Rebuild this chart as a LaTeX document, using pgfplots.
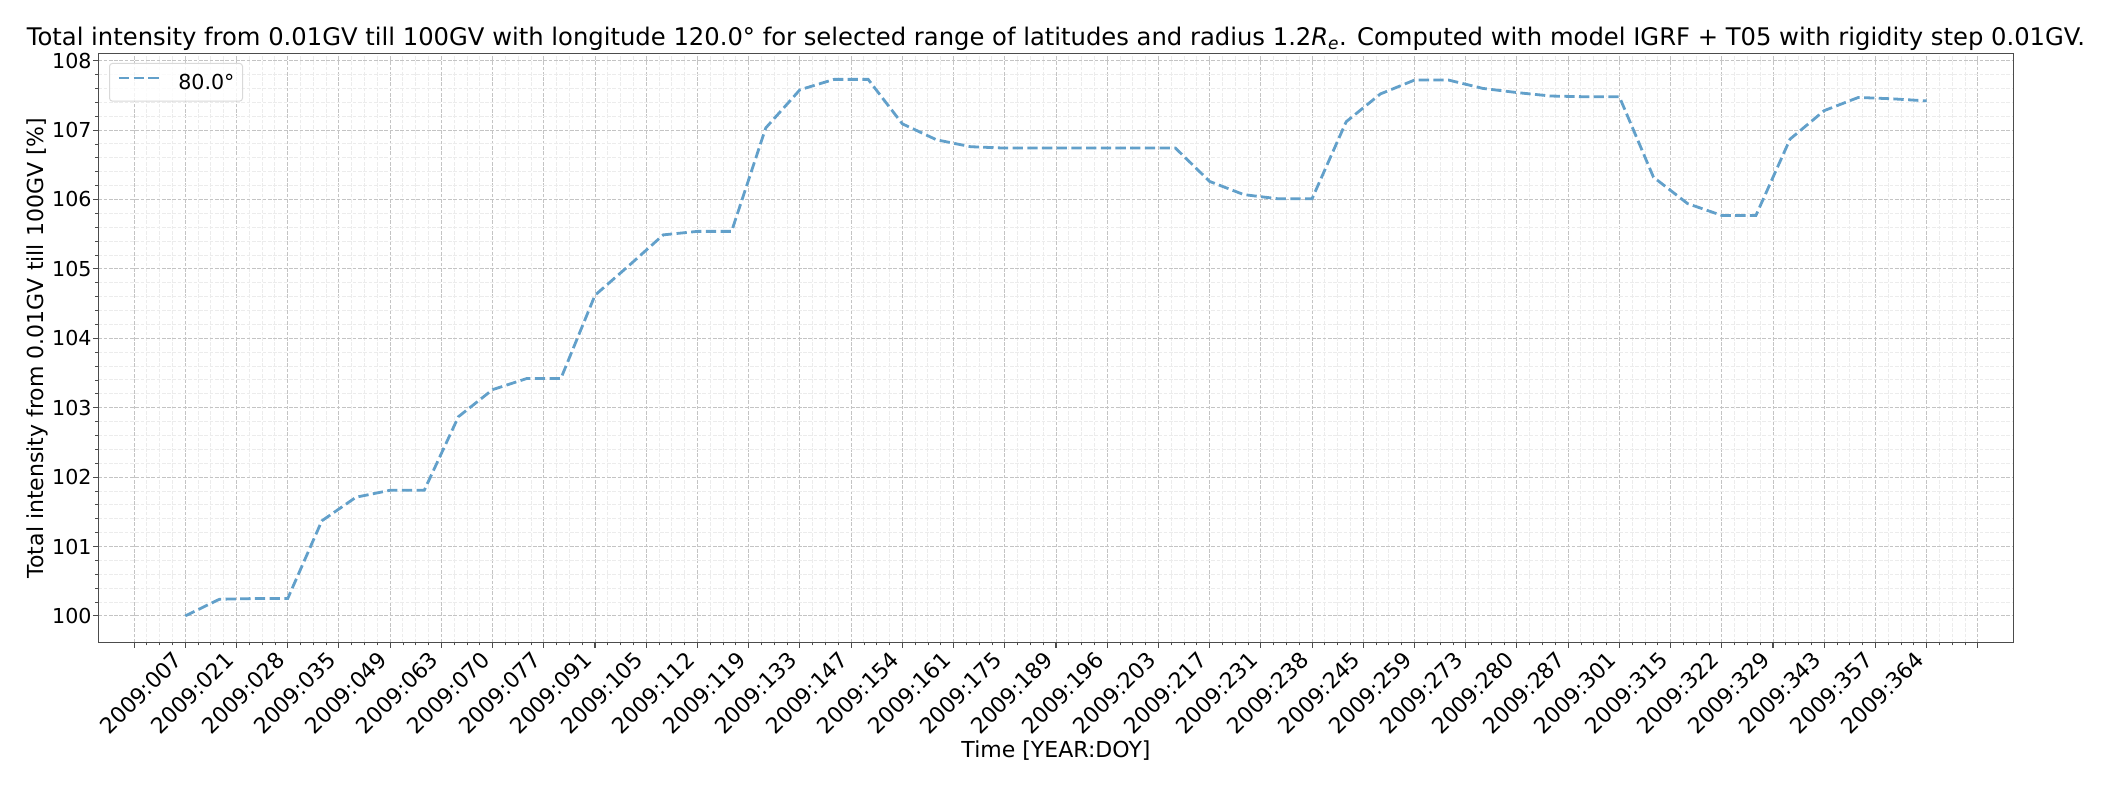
\documentclass[border=0pt]{standalone}
\usepackage{pgfplots}
\pgfplotsset{compat=1.18}
\usepackage{fontspec}
\setmainfont{DejaVu Sans}
\definecolor{series}{HTML}{62A0CA}
\definecolor{majgrid}{HTML}{C4C4C4}
\definecolor{mingrid}{HTML}{ECECEC}
\newcommand{\tickfont}{\fontsize{20.7}{25}\selectfont}
\newcommand{\xtickfont}{\fontsize{22}{26}\selectfont}
\newcommand{\labfont}{\fontsize{22.1}{26}\selectfont}
\newcommand{\titfont}{\fontsize{24.35}{29}\selectfont}
\begin{document}
\begin{tikzpicture}
\path[use as bounding box] (0,0) rectangle (2110bp,785bp);
\begin{axis}[
    at={(98.2bp,142.3bp)}, anchor=south west,
    scale only axis,
    width=1915.5bp, height=589.4bp,
    xmin=-10.85, xmax=381.85,
    ymin=99.614, ymax=108.106,
    xtick={-3.5,7,17.5,28,38.5,49,59.5,70,80.5,91,101.5,112,122.5,133,143.5,154,164.5,175,185.5,196,206.5,217,227.5,238,248.5,259,269.5,280,290.5,301,311.5,322,332.5,343,353.5,364,374.5},
    xticklabels={{},2009:007,2009:021,2009:028,2009:035,2009:049,2009:063,2009:070,2009:077,2009:091,2009:105,2009:112,2009:119,2009:133,2009:147,2009:154,2009:161,2009:175,2009:189,2009:196,2009:203,2009:217,2009:231,2009:238,2009:245,2009:259,2009:273,2009:280,2009:287,2009:301,2009:315,2009:322,2009:329,2009:343,2009:357,2009:364,{}},
    ytick={100,101,...,108},
    minor x tick num=3,
    minor y tick num=4,
    grid=both,
    major grid style={majgrid, line width=0.9bp, dash pattern=on 3.7bp off 1.6bp},
    minor grid style={mingrid, line width=0.9bp, dash pattern=on 3.7bp off 1.6bp},
    axis line style={black!70, line width=1.1bp},
    tick align=outside,
    xtick pos=bottom, ytick pos=left,
    major tick length=4.9bp, minor tick length=2.8bp,
    tick style={black!70, line width=1.1bp},
    minor tick style={black!70, line width=0.8bp},
    /pgf/number format/assume math mode=true,
    yticklabel style={font=\tickfont, inner sep=0pt, xshift=-1.5bp},
    xticklabel style={font=\xtickfont, inner sep=0pt, xshift=-13bp, yshift=-2bp, rotate=45, anchor=north east},
    legend style={at={(0,1)}, anchor=north west, xshift=10.8bp, yshift=-9.6bp,
        draw=black!15, line width=1bp, rounded corners=3bp, fill=white, fill opacity=0.8, text opacity=1,
        font=\tickfont, inner xsep=8bp, inner ysep=10.5bp,
        nodes={inner sep=0bp},
        /tikz/every odd column/.append style={column sep=18bp}},
    legend cell align=left,
    legend image code/.code={\draw[#1] (0bp,0.8ex) -- (40bp,0.8ex);},
    clip=false,
]
\addplot[series, line width=2.8bp, dash pattern=on 10.3bp off 4.4bp] coordinates {
(7,100.00)(14,100.24)(21,100.25)(28,100.25)(35,101.37)(42,101.71)(49,101.81)(56,101.81)
(63,102.87)(70,103.26)(77,103.42)(84,103.42)(91,104.62)(98,105.05)(105,105.49)(112,105.54)
(119,105.54)(126,107.03)(133,107.58)(140,107.73)(147,107.73)(154,107.09)(161,106.86)(168,106.76)
(175,106.74)(182,106.74)(189,106.74)(196,106.74)(203,106.74)(210,106.74)(217,106.26)(224,106.07)
(231,106.01)(238,106.01)(245,107.12)(252,107.52)(259,107.72)(266,107.72)(273,107.60)(280,107.54)
(287,107.49)(294,107.48)(301,107.48)(308,106.32)(315,105.94)(322,105.77)(329,105.77)(336,106.87)
(343,107.28)(350,107.47)(357,107.45)(364,107.42)
};
\addlegendentry{80.0°}
\end{axis}
\node[anchor=base, inner sep=0pt, font=\titfont] at (1056bp,739.3bp)
  {Total intensity from 0.01GV till 100GV with longitude 120.0° for selected range of latitudes and radius 1.2\textit{R}\textsubscript{\textit{e}}. Computed with model IGRF + T05 with rigidity step 0.01GV.};
\node[anchor=base, inner sep=0pt, font=\labfont] at (1056bp,28bp) {Time [YEAR:DOY]};
\node[anchor=base, rotate=90, inner sep=0pt, font=\labfont] at (43.5bp,437bp) {Total intensity from 0.01GV till 100GV [\%]};
\end{tikzpicture}
\end{document}
